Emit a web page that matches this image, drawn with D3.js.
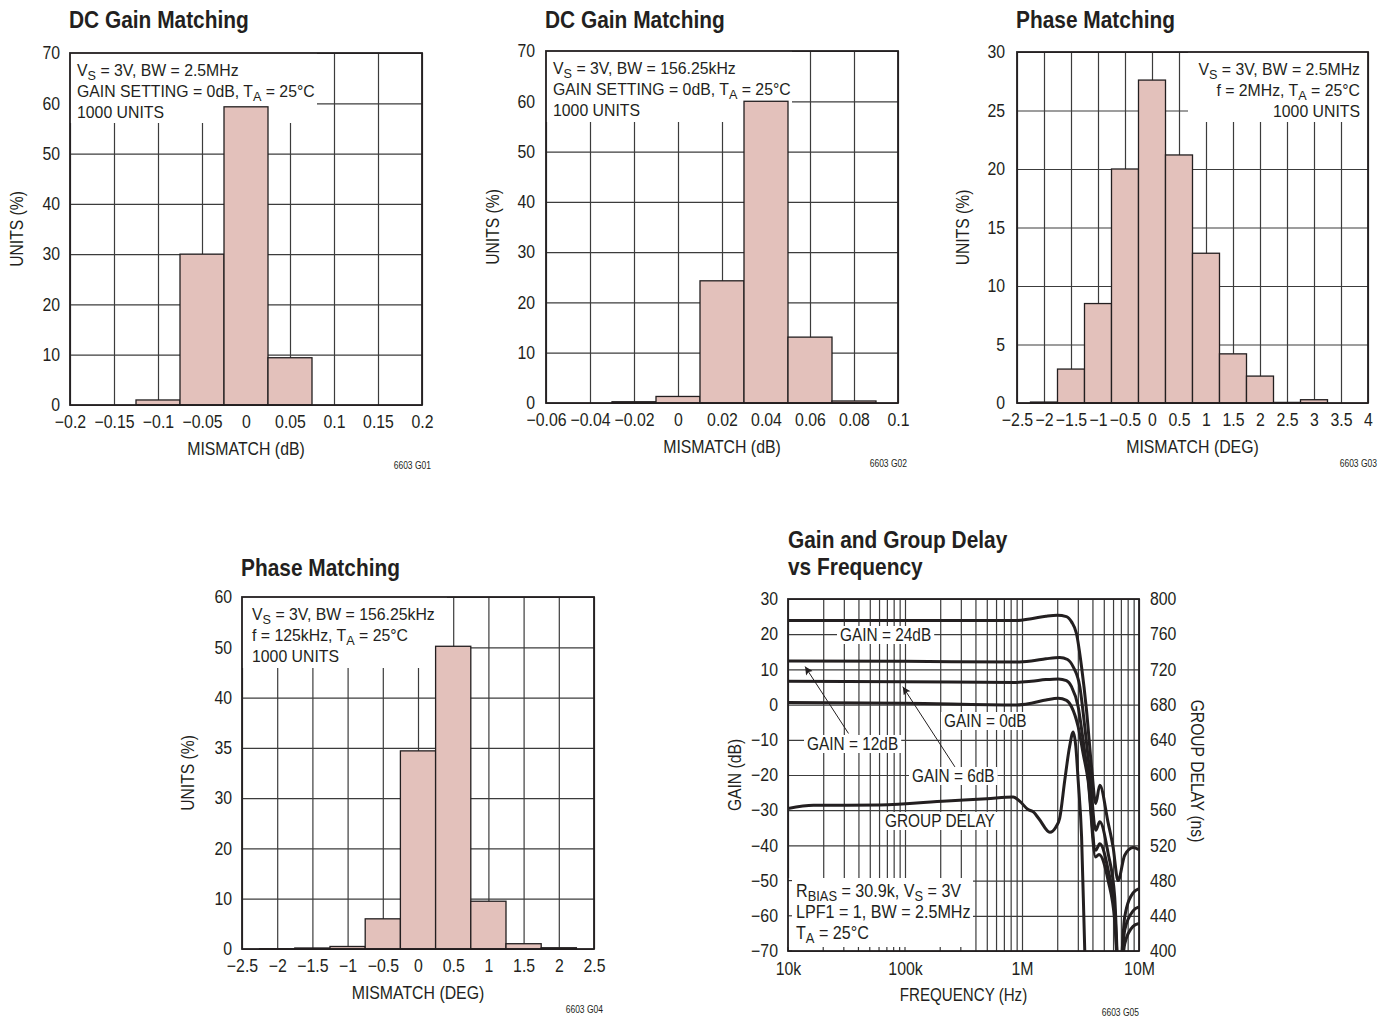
<!DOCTYPE html>
<html>
<head>
<meta charset="utf-8">
<script src="https://cdn.jsdelivr.net/npm/d3@7.9.0/dist/d3.min.js"></script>
<style>
  body { margin: 0; background: #fff; }
  svg { display: block; }
  svg text { font-family: "Liberation Sans", Arial, sans-serif; fill: #231f20; }
</style>
</head>
<body>
<svg id="chart" width="1390" height="1019"></svg>
<script>
// ---- data ----

// G01: DC gain matching, BW = 2.5MHz
const g01Ticks = [-0.2, -0.15, -0.1, -0.05, 0, 0.05, 0.1, 0.15, 0.2];
const g01YTicks = [0, 10, 20, 30, 40, 50, 60, 70];
const g01Bins = [-0.1, -0.05, 0, 0.05];
const g01Units = [1, 30, 59.3, 9.4];

// G02: DC gain matching, BW = 156.25kHz
const g02Ticks = [-0.06, -0.04, -0.02, 0, 0.02, 0.04, 0.06, 0.08, 0.1];
const g02YTicks = [0, 10, 20, 30, 40, 50, 60, 70];
const g02Bins = [-0.02, 0, 0.02, 0.04, 0.06, 0.08];
const g02Units = [0.25, 1.3, 24.3, 60, 13.1, 0.4];

// G03: phase matching, f = 2MHz
const g03Ticks = [-2.5, -2, -1.5, -1, -0.5, 0, 0.5, 1, 1.5, 2, 2.5, 3, 3.5, 4];
const g03YTicks = [0, 5, 10, 15, 20, 25, 30];
const g03Bins = [-2, -1.5, -1, -0.5, 0, 0.5, 1, 1.5, 2, 2.5, 3];
const g03Units = [0.08, 2.9, 8.5, 20, 27.6, 21.2, 12.8, 4.2, 2.3, 0.05, 0.28];

// G04: phase matching, f = 125kHz (tick labels exactly as printed)
const g04Ticks = [-2.5, -2, -1.5, -1, -0.5, 0, 0.5, 1, 1.5, 2, 2.5];
const g04YTicks = [0, 10, 20, 30, 35, 40, 50, 60];
const g04Bins = [-2, -1.5, -1, -0.5, 0, 0.5, 1, 1.5, 2];
const g04Units = [0.05, 0.2, 0.5, 6, 34.7, 50.2, 9.5, 1.05, 0.25];

// G05: gain and group delay vs frequency
const freqTicks = [1e4, 1e5, 1e6, 1e7];
const freqLabels = ["10k", "100k", "1M", "10M"];
const gainTicks = [-70, -60, -50, -40, -30, -20, -10, 0, 10, 20, 30];
const delayTicks = [400, 440, 480, 520, 560, 600, 640, 680, 720, 760, 800];

const gain24Freq = [1e4, 1e5, 9e5, 1.2e6, 1.6e6, 2.0e6, 2.4e6, 2.65e6, 2.92e6, 3.23e6, 3.56e6, 3.93e6, 4.27e6, 4.62e6, 5.45e6, 6.0e6, 6.62e6, 7.55e6, 8.9e6, 1e7];
const gain24 = [23.9, 23.9, 23.9, 24.4, 25.1, 25.4, 25.0, 23.5, 20.2, 10.7, -1.6, -17.7, -28.1, -22.9, -33.6, -40.4, -50, -42.8, -40.6, -41.2];

const gain12Freq = [1e4, 1e5, 9e5, 1.2e6, 1.6e6, 2.1e6, 2.45e6, 2.74e6, 3.12e6, 3.44e6, 3.8e6, 4.27e6, 4.62e6, 5.45e6, 6.2e6, 6.76e6, 7.55e6, 8.9e6, 1e7];
const gain12 = [12.4, 12.3, 12.1, 12.4, 13.0, 13.4, 12.8, 10.7, 5.1, -6.3, -19.5, -35.7, -33.3, -42.3, -54.7, -80, -60.3, -53.5, -52.3];

const gain6Freq = [1e4, 1e5, 9e5, 1.2e6, 1.6e6, 2.04e6, 2.4e6, 2.65e6, 3.02e6, 3.33e6, 3.67e6, 4.27e6, 4.62e6, 5.45e6, 6.2e6, 6.76e6, 7.55e6, 8.9e6, 1e7];
const gain6 = [6.6, 6.5, 6.3, 6.6, 7.1, 7.3, 6.8, 5.1, -0.6, -10.1, -20.5, -41.4, -39.5, -47, -58.4, -80, -64, -58.6, -57.5];

const gain0Freq = [1e4, 1e5, 9e5, 1.2e6, 1.6e6, 2.04e6, 2.4e6, 2.65e6, 3.02e6, 3.33e6, 3.67e6, 4.25e6, 4.55e6, 5.45e6, 6.2e6, 6.76e6, 7.55e6, 8.9e6, 1e7];
const gain0 = [0.6, 0.4, -0.1, 0.4, 1.3, 1.8, 1.2, -0.6, -6.3, -13.9, -21.5, -43.3, -42.6, -50, -61.3, -80, -68, -63, -62.2];

const delayFreq = [1e4, 1.65e4, 6.1e4, 2.28e5, 5e5, 8.4e5, 9.6e5, 1.12e6, 1.25e6, 1.4e6, 1.73e6, 1.95e6, 2.1e6, 2.32e6, 2.55e6, 2.74e6, 2.88e6, 3.02e6, 3.23e6, 3.44e6, 3.6e6];
const delayNs = [562, 565.5, 566, 570.5, 573, 575, 570, 561, 558, 550, 535, 541, 551, 594, 632, 649, 633, 594, 530, 400, 330];

// ---- drawing ----
const INK = "#231f20";
const GRID = "#3c3c3c";
const BAR = "#e3c1bb";
const svg = d3.select("#chart");
svg.append("rect").attr("width", 1390).attr("height", 1019).attr("fill", "#fff");

const fmt = (d) => (d < 0 ? "\u2212" + Math.abs(d) : String(d));

// the datasheet uses a condensed face: squeeze the installed sans horizontally
function squeeze(sel, k) {
  sel.each(function () {
    const w = this.getComputedTextLength();
    this.setAttribute("textLength", (w * k).toFixed(1));
    this.setAttribute("lengthAdjust", "spacingAndGlyphs");
  });
  return sel;
}

// text with V_{S} style subscripts
function rich(sel, str) {
  let shifted = false;
  str.split(/(_\{[^}]*\})/).forEach((part) => {
    if (!part) return;
    const m = part.match(/^_\{(.*)\}$/);
    if (m) {
      sel.append("tspan").attr("dy", 4).attr("font-size", "0.8em").text(m[1]);
      shifted = true;
    } else {
      sel.append("tspan").attr("dy", shifted ? -4 : 0).text(part);
      shifted = false;
    }
  });
  return sel;
}

function rotatedLabel(x, y, angle, str) {
  const t = svg.append("text")
    .attr("transform", `translate(${x},${y}) rotate(${angle})`)
    .attr("text-anchor", "middle").attr("dy", "0.35em")
    .attr("font-size", 18).text(str);
  squeeze(t, 0.87);
}

function title(x, y, str) {
  squeeze(svg.append("text").attr("x", x).attr("y", y)
    .attr("font-size", 24).attr("font-weight", "bold").text(str), 0.87);
}

function histogram(p) {
  const bottom = p.top + p.height;
  const right = p.left + p.width;
  const x = d3.scaleLinear().domain(d3.extent(p.xTicks)).range([p.left, right]);
  const n = p.yTicks.length - 1;
  const y = d3.scaleLinear().domain(p.yTicks)
    .range(p.yTicks.map((d, i) => bottom - (i * p.height) / n));

  // grid
  const gx = svg.append("g").attr("transform", `translate(0,${bottom})`)
    .call(d3.axisBottom(x).tickValues(p.xTicks).tickSize(-p.height).tickFormat(""));
  const gy = svg.append("g").attr("transform", `translate(${p.left},0)`)
    .call(d3.axisLeft(y).tickValues(p.yTicks).tickSize(-p.width).tickFormat(""));
  [gx, gy].forEach((g) => {
    g.select(".domain").remove();
    g.selectAll("line").attr("stroke", GRID).attr("stroke-width", 1.2);
  });

  // white note box hides the grid
  svg.append("rect")
    .attr("x", p.box[0]).attr("y", p.box[1])
    .attr("width", p.box[2] - p.box[0]).attr("height", p.box[3] - p.box[1])
    .attr("fill", "#fff");

  const half = p.binWidth / 2;
  svg.append("g").selectAll("rect")
    .data(p.bins.map((c, i) => ({ c, v: p.units[i] })))
    .join("rect")
    .attr("x", (d) => x(d.c - half))
    .attr("width", (d) => x(d.c + half) - x(d.c - half))
    .attr("y", (d) => y(d.v))
    .attr("height", (d) => bottom - y(d.v))
    .attr("fill", BAR).attr("stroke", INK).attr("stroke-width", 1.3);

  svg.append("rect")
    .attr("x", p.left).attr("y", p.top).attr("width", p.width).attr("height", p.height)
    .attr("fill", "none").attr("stroke", INK).attr("stroke-width", 1.8);

  // tick labels
  const ax = svg.append("g").attr("transform", `translate(0,${bottom})`)
    .call(d3.axisBottom(x).tickValues(p.xTicks).tickSize(0).tickPadding(10).tickFormat(fmt));
  const ay = svg.append("g").attr("transform", `translate(${p.left},0)`)
    .call(d3.axisLeft(y).tickValues(p.yTicks).tickSize(0).tickPadding(p.yPad).tickFormat(fmt));
  [ax, ay].forEach((g) => {
    g.select(".domain").remove();
    squeeze(g.selectAll("text").style("font-size", "18px"), 0.88);
  });

  title(p.left - 1, p.titleY, p.title);

  p.note.forEach((line, i) => {
    const t = svg.append("text")
      .attr("x", p.noteX).attr("y", p.top + 23 + i * 21)
      .attr("text-anchor", p.noteAnchor).attr("font-size", 17);
    squeeze(rich(t, line), 0.93);
  });

  squeeze(svg.append("text").attr("x", (p.left + right) / 2).attr("y", bottom + 50)
    .attr("text-anchor", "middle").attr("font-size", 18).text(p.xTitle), 0.88);
  rotatedLabel(p.yTitleX, (p.top + bottom) / 2, -90, "UNITS (%)");
  squeeze(svg.append("text").attr("x", right + 9).attr("y", bottom + 64)
    .attr("text-anchor", "end").attr("font-size", 10).text(p.code), 0.85);
}

const dcNote1 = ["V_{S} = 3V, BW = 2.5MHz", "GAIN SETTING = 0dB, T_{A} = 25\u00b0C", "1000 UNITS"];
const dcNote2 = ["V_{S} = 3V, BW = 156.25kHz", "GAIN SETTING = 0dB, T_{A} = 25\u00b0C", "1000 UNITS"];
const phNote1 = ["V_{S} = 3V, BW = 2.5MHz", "f = 2MHz, T_{A} = 25\u00b0C", "1000 UNITS"];
const phNote2 = ["V_{S} = 3V, BW = 156.25kHz", "f = 125kHz, T_{A} = 25\u00b0C", "1000 UNITS"];

histogram({
  left: 70, top: 53, width: 352, height: 352, yPad: 10, titleY: 28,
  xTicks: g01Ticks, yTicks: g01YTicks, bins: g01Bins, units: g01Units, binWidth: 0.05,
  title: "DC Gain Matching", note: dcNote1, noteX: 77, noteAnchor: "start",
  box: [70, 53, 317, 123], xTitle: "MISMATCH (dB)", yTitleX: 17, code: "6603 G01",
});
histogram({
  left: 546, top: 51, width: 352, height: 352, yPad: 11, titleY: 28,
  xTicks: g02Ticks, yTicks: g02YTicks, bins: g02Bins, units: g02Units, binWidth: 0.02,
  title: "DC Gain Matching", note: dcNote2, noteX: 553, noteAnchor: "start",
  box: [546, 51, 792, 122], xTitle: "MISMATCH (dB)", yTitleX: 493, code: "6603 G02",
});
histogram({
  left: 1017, top: 52, width: 351, height: 351, yPad: 12, titleY: 28,
  xTicks: g03Ticks, yTicks: g03YTicks, bins: g03Bins, units: g03Units, binWidth: 0.5,
  title: "Phase Matching", note: phNote1, noteX: 1360, noteAnchor: "end",
  box: [1188, 52, 1368, 122], xTitle: "MISMATCH (DEG)", yTitleX: 963, code: "6603 G03",
});
histogram({
  left: 242, top: 597, width: 352, height: 352, yPad: 10, titleY: 576,
  xTicks: g04Ticks, yTicks: g04YTicks, bins: g04Bins, units: g04Units, binWidth: 0.5,
  title: "Phase Matching", note: phNote2, noteX: 252, noteAnchor: "start",
  box: [242, 597, 447, 668], xTitle: "MISMATCH (DEG)", yTitleX: 188, code: "6603 G04",
});

// ---- G05 ----
(function gainDelay() {
  const L = 788, T = 599, W = 351, H = 352, B = T + H, R = L + W;
  const x = d3.scaleLog().domain([1e4, 1e7]).range([L, R]);
  const yG = d3.scaleLinear().domain([-70, 30]).range([B, T]);
  const yD = d3.scaleLinear().domain([400, 800]).range([B, T]);

  const gx = svg.append("g").attr("transform", `translate(0,${B})`)
    .call(d3.axisBottom(x).tickValues(x.ticks()).tickSize(-H).tickFormat(""));
  const gy = svg.append("g").attr("transform", `translate(${L},0)`)
    .call(d3.axisLeft(yG).tickValues(gainTicks).tickSize(-W).tickFormat(""));
  [gx, gy].forEach((g) => {
    g.select(".domain").remove();
    g.selectAll("line").attr("stroke", GRID).attr("stroke-width", 1.2);
  });

  // conditions box in the lower left
  svg.append("rect").attr("x", L).attr("y", 878).attr("width", 973 - L).attr("height", B - 878).attr("fill", "#fff");
  svg.append("g").selectAll("line").data(x.ticks().filter((f) => x(f) < 973))
    .join("line").attr("x1", (f) => x(f)).attr("x2", (f) => x(f))
    .attr("y1", B).attr("y2", B - 4).attr("stroke", GRID).attr("stroke-width", 1.2);
  svg.append("g").selectAll("line").data(gainTicks.filter((g) => yG(g) > 878))
    .join("line").attr("x1", L).attr("x2", L + 4)
    .attr("y1", (g) => yG(g)).attr("y2", (g) => yG(g)).attr("stroke", GRID).attr("stroke-width", 1.2);

  // label boxes sit on top of the grid
  const labels = [
    ["GAIN = 24dB", 840, 641],
    ["GAIN = 0dB", 944, 727],
    ["GAIN = 12dB", 807, 750],
    ["GAIN = 6dB", 912, 782],
    ["GROUP DELAY", 885, 827],
  ];
  labels.forEach(([s, lx, ly]) => {
    const t = svg.append("text").attr("x", lx).attr("y", ly).attr("font-size", 17.5).text(s);
    squeeze(t, 0.88);
    const b = t.node().getBBox();
    svg.insert("rect", () => t.node())
      .attr("x", b.x - 3).attr("y", b.y + 1).attr("width", b.width + 6).attr("height", b.height - 2)
      .attr("fill", "#fff");
  });

  // arrows to the 12dB and 6dB traces
  svg.append("defs").append("marker")
    .attr("id", "arrow").attr("viewBox", "0 0 10 10").attr("refX", 10).attr("refY", 5)
    .attr("markerWidth", 14).attr("markerHeight", 8).attr("markerUnits", "userSpaceOnUse")
    .attr("orient", "auto")
    .append("path").attr("d", "M0,0L10,5L0,10L2,5Z").attr("fill", INK);
  const arrows = [
    [[3.29e4, -8.2], [1.4e4, 10.8]],
    [[2.67e5, -17.7], [9.57e4, 5.1]],
  ];
  arrows.forEach(([from, to]) => {
    svg.append("line")
      .attr("x1", x(from[0])).attr("y1", yG(from[1]))
      .attr("x2", x(to[0])).attr("y2", yG(to[1]))
      .attr("stroke", INK).attr("stroke-width", 1).attr("marker-end", "url(#arrow)");
  });

  svg.append("clipPath").attr("id", "plot5").append("rect")
    .attr("x", L).attr("y", T).attr("width", W).attr("height", H);
  const curves = svg.append("g").attr("clip-path", "url(#plot5)");
  const gainLine = d3.line().x((d) => x(d[0])).y((d) => yG(d[1])).curve(d3.curveMonotoneX);
  const delayLine = d3.line().x((d) => x(d[0])).y((d) => yD(d[1])).curve(d3.curveMonotoneX);
  [[gain24Freq, gain24], [gain12Freq, gain12], [gain6Freq, gain6], [gain0Freq, gain0]].forEach(([f, g]) => {
    curves.append("path").attr("d", gainLine(d3.zip(f, g)))
      .attr("fill", "none").attr("stroke", INK).attr("stroke-width", 3);
  });
  curves.append("path").attr("d", delayLine(d3.zip(delayFreq, delayNs)))
    .attr("fill", "none").attr("stroke", INK).attr("stroke-width", 3);

  svg.append("rect").attr("x", L).attr("y", T).attr("width", W).attr("height", H)
    .attr("fill", "none").attr("stroke", INK).attr("stroke-width", 1.8);

  const ax = svg.append("g").attr("transform", `translate(0,${B})`)
    .call(d3.axisBottom(x).tickValues(freqTicks).tickSize(0).tickPadding(11)
      .tickFormat((d, i) => freqLabels[i]));
  const ayL = svg.append("g").attr("transform", `translate(${L},0)`)
    .call(d3.axisLeft(yG).tickValues(gainTicks).tickSize(0).tickPadding(10).tickFormat(fmt));
  const ayR = svg.append("g").attr("transform", `translate(${R},0)`)
    .call(d3.axisRight(yD).tickValues(delayTicks).tickSize(0).tickPadding(11));
  [ax, ayL, ayR].forEach((g) => {
    g.select(".domain").remove();
    squeeze(g.selectAll("text").style("font-size", "18px"), 0.88);
  });

  const notes = ["R_{BIAS} = 30.9k, V_{S} = 3V", "LPF1 = 1, BW = 2.5MHz", "T_{A} = 25\u00b0C"];
  notes.forEach((s, i) => {
    squeeze(rich(svg.append("text").attr("x", 796).attr("y", 897 + i * 21).attr("font-size", 17.5), s), 0.92);
  });

  title(L, 548, "Gain and Group Delay");
  title(L, 575, "vs Frequency");

  squeeze(svg.append("text").attr("x", (L + R) / 2).attr("y", 1001).attr("text-anchor", "middle")
    .attr("font-size", 18).text("FREQUENCY (Hz)"), 0.84);
  rotatedLabel(735, (T + B) / 2, -90, "GAIN (dB)");
  rotatedLabel(1197, 771, 90, "GROUP DELAY (ns)");
  squeeze(svg.append("text").attr("x", R).attr("y", 1016).attr("text-anchor", "end")
    .attr("font-size", 10).text("6603 G05"), 0.85);
})();
</script>
</body>
</html>
